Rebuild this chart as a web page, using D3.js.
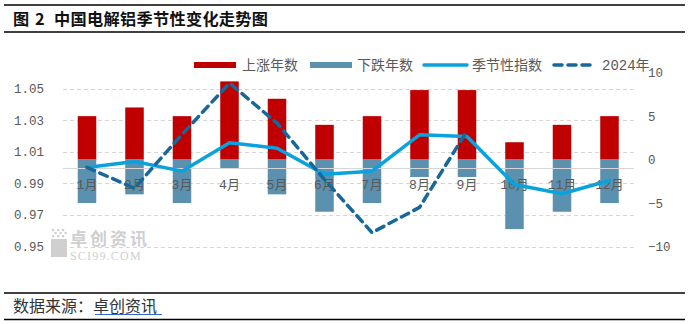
<!DOCTYPE html>
<html><head><meta charset="utf-8">
<script src="https://cdn.jsdelivr.net/npm/d3@7/dist/d3.min.js"></script>
<style>html,body{margin:0;padding:0;background:#fff;}svg{display:block;}</style>
</head><body>
<svg id="c" width="689" height="324"></svg>
<script>
const months = ["1月","2月","3月","4月","5月","6月","7月","8月","9月","10月","11月","12月"];
const upYears = [5,6,5,9,7,4,5,8,8,2,4,5];
const downYears = [-5,-4,-5,-1,-4,-6,-5,-2,-2,-8,-6,-5];
const seasonalIndex = [1.000,1.0038,0.9977,1.0157,1.0122,0.9958,0.9977,1.0207,1.0196,0.9892,0.9834,0.9918];
const y2024 = [-0.9,-3.3,2.9,8.8,4.2,-2.3,-8.4,-5.5,3.3];
const leftTicks = [0.95,0.97,0.99,1.01,1.03,1.05];
const rightTicks = [-10,-5,0,5,10];
const rightTickLabels = ["\u221210","\u22125","0","5","10"];
const legendItems = ["上涨年数","下跌年数","季节性指数","2024年"];
const titleParts = ["图","2","中国电解铝季节性变化走势图"];

const svg = d3.select("#c");
const C = {red:"#C00000", blue:"#5B91AF", line:"#0AA2DC", dash:"#17679A", grid:"#D6D6D6", text:"#595959"};
const monoCJK = "'Liberation Mono','Noto Sans CJK SC',monospace";
const cjk = "'Noto Sans CJK SC',sans-serif";

const x = d3.scaleBand().domain(months).range([63.25,633.25]).padding(0);
const yL = d3.scaleLinear().domain([0.95,1.06]).range([246.5,72.7]);
const yR = d3.scaleLinear().domain([-10,10]).range([246.5,72.7]);
const bw = x.bandwidth()*0.39;
const cx = m => x(m) + x.bandwidth()/2;

// Title block
svg.append("line").attr("x1",4).attr("x2",685).attr("y1",5).attr("y2",5).attr("stroke","#000").attr("stroke-width",1.5);
svg.append("line").attr("x1",4).attr("x2",685).attr("y1",32).attr("y2",32).attr("stroke","#000").attr("stroke-width",1.5);
const tt = svg.append("text").attr("y",25)
  .attr("font-family",cjk).attr("font-weight",700).attr("font-size",16.2).attr("fill","#111");
tt.append("tspan").attr("x",13).text(titleParts[0]);
tt.append("tspan").attr("x",35).text(titleParts[1]);
tt.append("tspan").attr("x",54).attr("letter-spacing",0.3).text(titleParts[2]);

// Footer
svg.append("line").attr("x1",4).attr("x2",685).attr("y1",293).attr("y2",293).attr("stroke","#000").attr("stroke-width",1.5);
svg.append("line").attr("x1",4).attr("x2",685).attr("y1",319.5).attr("y2",319.5).attr("stroke","#000").attr("stroke-width",1.5);
const ft = svg.append("text").attr("x",13).attr("y",312).attr("font-family",cjk).attr("font-size",16).attr("fill","#333");
ft.append("tspan").text("数据来源：");
ft.append("tspan").text("卓创资讯");
svg.append("line").attr("x1",95).attr("x2",162).attr("y1",314.5).attr("y2",314.5).attr("stroke","#3366CC").attr("stroke-width",1);

// Watermark
const wm = svg.append("g").attr("fill","#CFCFCF");
[[52,229],[57,229],[62,229],[54.5,232],[59.5,232],[64.5,232],[52,235],[57,235],[62,235]].forEach(p=>
  wm.append("rect").attr("x",p[0]).attr("y",p[1]).attr("width",2.2).attr("height",2.2));
wm.append("rect").attr("x",51).attr("y",239).attr("width",16).attr("height",18);
wm.append("text").attr("x",70).attr("y",244.5).text("卓创资讯").attr("font-family",cjk).attr("font-weight",700).attr("font-size",17).attr("letter-spacing",3);
wm.append("text").attr("x",70).attr("y",260).text("SCI99.COM").attr("font-family","'Liberation Serif',serif").attr("font-size",12).attr("letter-spacing",1.2);

// Grid
svg.append("g").selectAll("line").data(leftTicks).join("line")
  .attr("x1",63).attr("x2",634).attr("y1",d=>Math.round(yL(d))+0.5).attr("y2",d=>Math.round(yL(d))+0.5)
  .attr("stroke",C.grid).attr("stroke-width",1).attr("stroke-dasharray","4,3");

// Bars
svg.append("g").selectAll("rect").data(months).join("rect")
  .attr("x",m=>cx(m)-bw/2).attr("width",bw)
  .attr("y",(m,i)=>yR(upYears[i])).attr("height",(m,i)=>yR(0)-yR(upYears[i])).attr("fill",C.red);
svg.append("g").selectAll("rect").data(months).join("rect")
  .attr("x",m=>cx(m)-bw/2).attr("width",bw)
  .attr("y",yR(0)).attr("height",(m,i)=>yR(downYears[i])-yR(0)).attr("fill",C.blue);

// Axis line at 1.0
svg.append("line").attr("x1",63).attr("x2",634).attr("y1",Math.round(yL(1.0))+0.5).attr("y2",Math.round(yL(1.0))+0.5)
  .attr("stroke",C.grid).attr("stroke-width",1.2);

// Category labels
const xa = svg.append("g").attr("transform",`translate(0,${yL(1.0)})`)
  .call(d3.axisBottom(x).tickSize(0).tickPadding(12));
xa.select(".domain").remove();
xa.selectAll("text").attr("font-family",monoCJK).attr("font-size",13).attr("fill",C.text);

// Left axis
const la = svg.append("g").attr("transform","translate(46,0)")
  .call(d3.axisLeft(yL).tickValues(leftTicks).tickFormat(d3.format(".2f")).tickSize(0).tickPadding(2));
la.select(".domain").remove();
la.selectAll("text").attr("font-family","'Liberation Mono',monospace").attr("font-size",12.5).attr("fill",C.text);

// Right axis
const ra = svg.append("g").attr("transform","translate(646,0)")
  .call(d3.axisRight(yR).tickValues(rightTicks).tickFormat((d,i)=>rightTickLabels[i]).tickSize(0).tickPadding(2));
ra.select(".domain").remove();
ra.selectAll("text").attr("font-family","'Liberation Mono',monospace").attr("font-size",12.5).attr("fill",C.text);

// Seasonal index line
svg.append("path").datum(seasonalIndex)
  .attr("d",d3.line().x((d,i)=>cx(months[i])).y(d=>yL(d)))
  .attr("fill","none").attr("stroke",C.line).attr("stroke-width",3.5).attr("stroke-linejoin","round").attr("stroke-linecap","round");

// 2024 dashed line
svg.append("path").datum(y2024)
  .attr("d",d3.line().x((d,i)=>cx(months[i])).y(d=>yR(d)))
  .attr("fill","none").attr("stroke",C.dash).attr("stroke-width",3.5).attr("stroke-dasharray","8,6").attr("stroke-linecap","round");

// Legend
const lg = svg.append("g").attr("font-family",monoCJK).attr("font-size",14).attr("fill",C.text);
const ly = 65;
lg.append("rect").attr("x",194).attr("y",ly-3).attr("width",42).attr("height",6).attr("fill",C.red);
lg.append("text").attr("x",242).attr("y",ly+5).text(legendItems[0]);
lg.append("rect").attr("x",310).attr("y",ly-3).attr("width",42).attr("height",6).attr("fill",C.blue);
lg.append("text").attr("x",357).attr("y",ly+5).text(legendItems[1]);
lg.append("line").attr("x1",424).attr("x2",467).attr("y1",ly).attr("y2",ly).attr("stroke",C.line).attr("stroke-width",3.5).attr("stroke-linecap","round");
lg.append("text").attr("x",472).attr("y",ly+5).text(legendItems[2]);
lg.append("line").attr("x1",554).attr("x2",594).attr("y1",ly).attr("y2",ly).attr("stroke",C.dash).attr("stroke-width",3.5).attr("stroke-dasharray","8,6").attr("stroke-linecap","round");
lg.append("text").attr("x",602).attr("y",ly+5).text(legendItems[3]);
</script>
</body></html>
